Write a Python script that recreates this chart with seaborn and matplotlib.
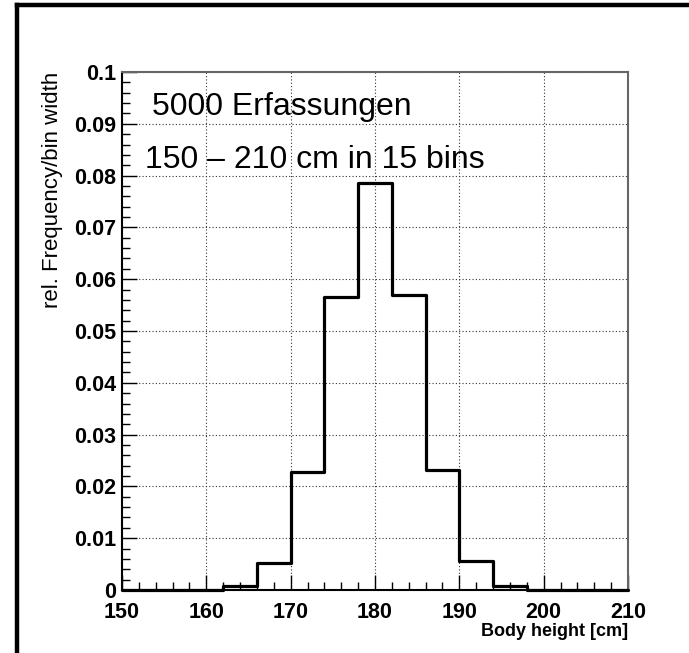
import numpy as np
import pandas as pd
import seaborn as sns
import matplotlib
matplotlib.use("Agg")
import matplotlib.pyplot as plt
from matplotlib.lines import Line2D
from matplotlib.ticker import MultipleLocator

# ---- data ----
bin_edges = [150, 154, 158, 162, 166, 170, 174, 178, 182, 186, 190, 194, 198, 202, 206, 210]
rel_freq = [0.0, 0.0, 0.0, 0.0007, 0.0052, 0.0227, 0.0565, 0.0785, 0.0570, 0.0231,
            0.0056, 0.0008, 0.0, 0.0, 0.0]
x_ticks = [150, 160, 170, 180, 190, 200, 210]
y_ticks = [0, 0.01, 0.02, 0.03, 0.04, 0.05, 0.06, 0.07, 0.08, 0.09, 0.1]
y_tick_labels = ["0", "0.01", "0.02", "0.03", "0.04", "0.05", "0.06", "0.07", "0.08", "0.09", "0.1"]
text_line1 = "5000 Erfassungen"
text_line2 = "150 \u2013 210 cm in 15 bins"
x_label = "Body height [cm]"
y_label = "rel. Frequency/bin width"

centers = [(a + b) / 2 for a, b in zip(bin_edges[:-1], bin_edges[1:])]
df = pd.DataFrame({"height": centers, "w": rel_freq})

sns.set_style("white")
plt.rcParams["font.family"] = ["Liberation Sans", "DejaVu Sans"]
plt.rcParams["text.color"] = "black"
plt.rcParams["axes.labelcolor"] = "black"
plt.rcParams["xtick.color"] = "black"
plt.rcParams["ytick.color"] = "black"

W, H = 689, 653
fig = plt.figure(figsize=(W / 100, H / 100), dpi=100)
L, R, T, B = 122, 628, 72, 590
ax = fig.add_axes([L / W, 1 - B / H, (R - L) / W, (B - T) / H])

sns.histplot(data=df, x="height", weights="w", bins=bin_edges, element="step",
             fill=False, stat="count", color="black", linewidth=2.3, ax=ax)
for art in ax.lines + ax.collections + ax.patches:
    art.set_clip_on(False)
    art.set_zorder(5)

ax.set_xlim(150, 210)
ax.set_ylim(0, 0.1)
ax.set_xticks(x_ticks)
ax.set_xticklabels([str(v) for v in x_ticks])
ax.set_yticks(y_ticks)
ax.set_yticklabels(y_tick_labels)
ax.xaxis.set_minor_locator(MultipleLocator(2))
ax.yaxis.set_minor_locator(MultipleLocator(0.002))
ax.tick_params(axis="both", which="major", direction="in", length=11, width=1.0,
               color="black", labelcolor="black", labelsize=15.5,
               top=False, right=False, left=True, bottom=True)
ax.tick_params(axis="both", which="minor", direction="in", length=5.5, width=1.0,
               color="black", top=False, right=False, left=True, bottom=True)
ax.tick_params(axis="x", which="major", pad=9)
ax.tick_params(axis="y", which="major", pad=4)
for lab in ax.get_xticklabels() + ax.get_yticklabels():
    lab.set_fontweight("bold")

ax.grid(True, which="major", linestyle=(0, (1, 2)), color="#333333", linewidth=0.8)
ax.set_axisbelow(True)

for s in ["left", "bottom"]:
    ax.spines[s].set_color("black")
    ax.spines[s].set_linewidth(1.5)
for s in ["top", "right"]:
    ax.spines[s].set_color("#666666")
    ax.spines[s].set_linewidth(1.5)
    ax.spines[s].set_visible(True)

ax.set_xlabel("")
ax.set_ylabel("")
fig.text(R / W, 1 - 632 / H, x_label, ha="right", va="center", fontsize=13,
         fontweight="bold", color="black")
fig.text(53 / W, 1 - T / H, y_label, ha="center", va="top", rotation=90,
         fontsize=16, color="black")

fig.text(152 / W, 1 - 115 / H, text_line1, ha="left", va="baseline", fontsize=23, color="black")
fig.text(145 / W, 1 - 168 / H, text_line2, ha="left", va="baseline", fontsize=23, color="black")

# canvas border (top and left)
fig.add_artist(Line2D([17 / W, 1], [1 - 5 / H, 1 - 5 / H], transform=fig.transFigure,
                      color="black", linewidth=3.2, solid_capstyle="projecting"))
fig.add_artist(Line2D([17 / W, 17 / W], [1 - 5 / H, 0], transform=fig.transFigure,
                      color="black", linewidth=3.2, solid_capstyle="projecting"))

fig.savefig("out.png", dpi=100)
